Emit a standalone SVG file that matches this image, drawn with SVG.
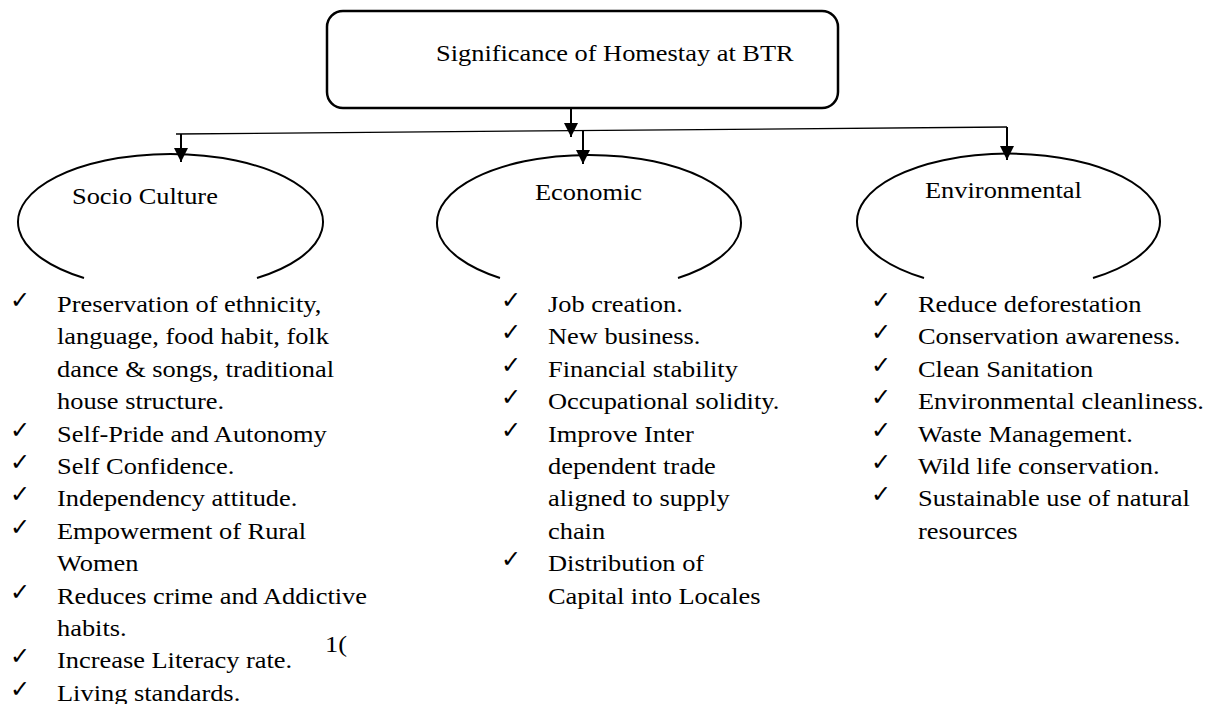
<svg xmlns="http://www.w3.org/2000/svg" width="1208" height="704" viewBox="0 0 1208 704">
<style>
.t{font-family:"Liberation Serif","Times New Roman",serif;font-size:24px;fill:#000}
.ck{font-family:"DejaVu Sans",sans-serif;font-size:24px;fill:#000}
.box{fill:#fff;stroke:#000;stroke-width:2.5}
.arc{fill:none;stroke:#000;stroke-width:2}
.ln{fill:none;stroke:#000;stroke-width:2}
.bus{fill:none;stroke:#000;stroke-width:1.3}
</style>
<defs>
<marker id="ah" markerWidth="14" markerHeight="14" refX="14" refY="7" orient="auto" markerUnits="userSpaceOnUse"><path d="M0,0 L14,7 L0,14 z" fill="#000"/></marker>
</defs>
<rect width="1208" height="704" fill="#fff"/>
<g id="node-title">
<rect class="box" x="327" y="11" width="511" height="97" rx="16"/>
<text class="t" transform="translate(436,61) scale(1.1,1)">Significance of Homestay at BTR</text>
</g>
<g id="connectors">
<line class="ln" x1="571" y1="108" x2="571" y2="137" marker-end="url(#ah)"/>
<line class="bus" x1="176" y1="134" x2="1007" y2="127"/>
<line class="ln" x1="181" y1="134" x2="181" y2="162" marker-end="url(#ah)"/>
<line class="ln" x1="583" y1="131" x2="583" y2="164" marker-end="url(#ah)"/>
<line class="ln" x1="1007" y1="127" x2="1007" y2="160" marker-end="url(#ah)"/>
</g>
<g id="node-socio">
<path class="arc" d="M84,278 A152.5,68 0 1 1 257,278"/>
<text class="t" transform="translate(72,204) scale(1.1,1)">Socio Culture</text>
<g class="ck">
<text x="10" y="308">✓</text><text x="10" y="437.6">✓</text><text x="10" y="470">✓</text><text x="10" y="502.4">✓</text><text x="10" y="534.8">✓</text><text x="10" y="599.6">✓</text><text x="10" y="664.4">✓</text><text x="10" y="696.8">✓</text>
</g>
<g transform="translate(57,0) scale(1.1,1)">
<text class="t" y="312">Preservation of ethnicity,</text>
<text class="t" y="344.4">language, food habit, folk</text>
<text class="t" y="376.8">dance &amp; songs, traditional</text>
<text class="t" y="409.2">house structure.</text>
<text class="t" y="441.6">Self-Pride and Autonomy</text>
<text class="t" y="474">Self Confidence.</text>
<text class="t" y="506.4">Independency attitude.</text>
<text class="t" y="538.8">Empowerment of Rural</text>
<text class="t" y="571.2">Women</text>
<text class="t" y="603.6">Reduces crime and Addictive</text>
<text class="t" y="636">habits.</text>
<text class="t" y="668.4">Increase Literacy rate.</text>
<text class="t" y="700.8">Living standards.</text>
</g>
</g>
<g id="node-economic">
<path class="arc" d="M500,278 A152,68 0 1 1 678,278"/>
<text class="t" transform="translate(535,200) scale(1.1,1)">Economic</text>
<g class="ck">
<text x="501" y="308">✓</text><text x="501" y="340.4">✓</text><text x="501" y="372.8">✓</text><text x="501" y="405.2">✓</text><text x="501" y="437.6">✓</text><text x="501" y="567.2">✓</text>
</g>
<g transform="translate(548,0) scale(1.1,1)">
<text class="t" y="312">Job creation.</text>
<text class="t" y="344.4">New business.</text>
<text class="t" y="376.8">Financial stability</text>
<text class="t" y="409.2">Occupational solidity.</text>
<text class="t" y="441.6">Improve Inter</text>
<text class="t" y="474">dependent trade</text>
<text class="t" y="506.4">aligned to supply</text>
<text class="t" y="538.8">chain</text>
<text class="t" y="571.2">Distribution of</text>
<text class="t" y="603.6">Capital into Locales</text>
</g>
</g>
<g id="node-environmental">
<path class="arc" d="M924,278 A151.5,68 0 1 1 1093,278"/>
<text class="t" transform="translate(925,198) scale(1.1,1)">Environmental</text>
<g class="ck">
<text x="871" y="308">✓</text><text x="871" y="340.4">✓</text><text x="871" y="372.8">✓</text><text x="871" y="405.2">✓</text><text x="871" y="437.6">✓</text><text x="871" y="470">✓</text><text x="871" y="502.4">✓</text>
</g>
<g transform="translate(918,0) scale(1.1,1)">
<text class="t" y="312">Reduce deforestation</text>
<text class="t" y="344.4">Conservation awareness.</text>
<text class="t" y="376.8">Clean Sanitation</text>
<text class="t" y="409.2">Environmental cleanliness.</text>
<text class="t" y="441.6">Waste Management.</text>
<text class="t" y="474">Wild life conservation.</text>
<text class="t" y="506.4">Sustainable use of natural</text>
<text class="t" y="538.8">resources</text>
</g>
</g>
<text class="t" transform="translate(325,652) scale(1.1,1)">1(</text>
</svg>
